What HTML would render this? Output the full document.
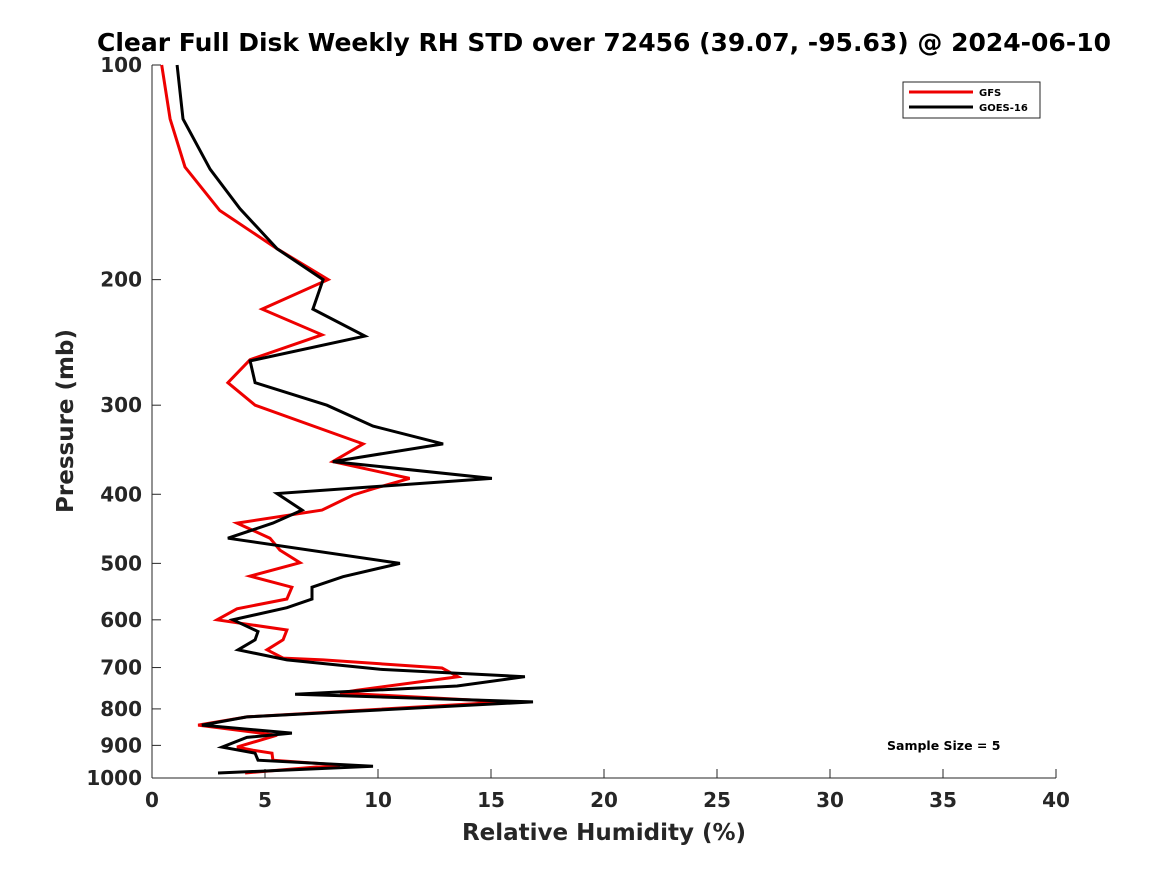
<!DOCTYPE html>
<html><head><meta charset="utf-8"><style>
body{margin:0;background:#fff;}
svg text{font-family:"DejaVu Sans","Liberation Sans",sans-serif;}
</style></head><body>
<svg id="chart" width="1167" height="875" xmlns="http://www.w3.org/2000/svg">
<rect width="1167" height="875" fill="#fff"/>
<text x="604" y="51" text-anchor="middle" font-size="25" font-weight="bold" fill="#000">Clear Full Disk Weekly RH STD over 72456 (39.07, -95.63) @ 2024-06-10</text>
<g id="axes"></g>
<g id="series"></g>
<text x="604" y="840" text-anchor="middle" font-size="23" font-weight="bold" fill="#262626">Relative Humidity (%)</text>
<text transform="translate(73,421) rotate(-90)" text-anchor="middle" font-size="23" font-weight="bold" fill="#262626">Pressure (mb)</text>
<g>
<rect x="903" y="82" width="137" height="36" fill="#fff" stroke="#262626" stroke-width="1"/>
<line x1="909" y1="92" x2="973" y2="92" stroke="#e00" stroke-width="3"/>
<text x="979" y="96" font-size="10" font-weight="bold">GFS</text>
<line x1="909" y1="107" x2="973" y2="107" stroke="#000" stroke-width="3"/>
<text x="979" y="111" font-size="10" font-weight="bold">GOES-16</text>
</g>
<text x="887" y="750" font-size="12.5" font-weight="bold">Sample Size = 5</text>
</svg>
<script>
const xTicks=[0,5,10,15,20,25,30,35,40];
const yTicks=[100,200,300,400,500,600,700,800,900,1000];
const gfsP=[100,119,139,160,181,200,220,239,259,279,300,340,360,380,393,401,421,439,461,479,499,521,540,561,579,600,620,640,661,679,683,701,721,753,760,782,821,843,871,905,914,923,944,959,984];
const gfsV=[0.43,0.8,1.46,3.0,5.53,7.79,4.87,7.52,4.34,3.36,4.56,9.34,8.0,11.4,9.78,8.9,7.52,3.76,5.22,5.66,6.55,4.34,6.19,5.97,3.76,2.88,5.97,5.8,5.09,5.8,7.57,12.83,13.54,9.07,8.32,15.7,4.2,2.04,5.53,3.76,4.47,5.31,5.35,8.32,4.12];
const goesP=[100,119,140,159,181,200,220,240,260,279,300,321,340,360,380,399,421,439,461,500,522,540,561,577,600,623,640,661,683,704,721,743,763,782,821,843,865,877,905,923,944,963,984];
const goesV=[1.11,1.37,2.57,3.89,5.53,7.57,7.12,9.42,4.34,4.56,7.74,9.78,12.88,8.0,15.04,5.53,6.64,5.35,3.36,10.97,8.45,7.08,7.08,5.97,3.58,4.69,4.56,3.81,5.97,10.09,16.5,13.5,6.33,16.86,4.2,2.21,6.19,4.2,3.1,4.56,4.69,9.78,2.92];
const X0=152,X1=1056,Y0=65,Y1=778;
const xs=v=>X0+(v-0)/(40-0)*(X1-X0);
const ys=p=>Y0+Math.log10(p/100)/Math.log10(1000/100)*(Y1-Y0);
const NS='http://www.w3.org/2000/svg';
const ax=document.getElementById('axes');
function mk(t,a,parent){const e=document.createElementNS(NS,t);for(const k in a)e.setAttribute(k,a[k]);parent.appendChild(e);return e;}
const yl=mk('line',{x1:X0,y1:Y0,x2:X0,y2:Y1,stroke:'#262626','stroke-width':1},ax);


const xl=mk('line',{x1:X0,y1:Y1,x2:X1,y2:Y1,stroke:'#262626','stroke-width':1},ax);


xTicks.forEach(v=>{
 const x=xs(v);
 mk('line',{x1:x,y1:Y1,x2:x,y2:Y1-9,stroke:'#262626'},ax);
 const t=mk('text',{x:x,y:Y1+29,'text-anchor':'middle','font-size':20,'font-weight':'bold',fill:'#262626'},ax);
 t.textContent=v;
 
 
});
yTicks.forEach(p=>{
 const y=ys(p);
 mk('line',{x1:X0,y1:y,x2:X0+9,y2:y,stroke:'#262626'},ax);
 const t=mk('text',{x:X0-10,y:y+7,'text-anchor':'end','font-size':20,'font-weight':'bold',fill:'#262626'},ax);
 t.textContent=p;
 
 
});
const sg=document.getElementById('series');
function line(P,V,color,name){
 const d=P.map((p,i)=>(i?'L':'M')+xs(V[i]).toFixed(1)+','+ys(p).toFixed(1)).join('');
 const e=mk('path',{d:d,fill:'none',stroke:color,'stroke-width':3,'stroke-linejoin':'miter'},sg);
 
 
}
line(gfsP,gfsV,'#e00','gfs-line');
line(goesP,goesV,'#000','goes16-line');
</script>
</body></html>
